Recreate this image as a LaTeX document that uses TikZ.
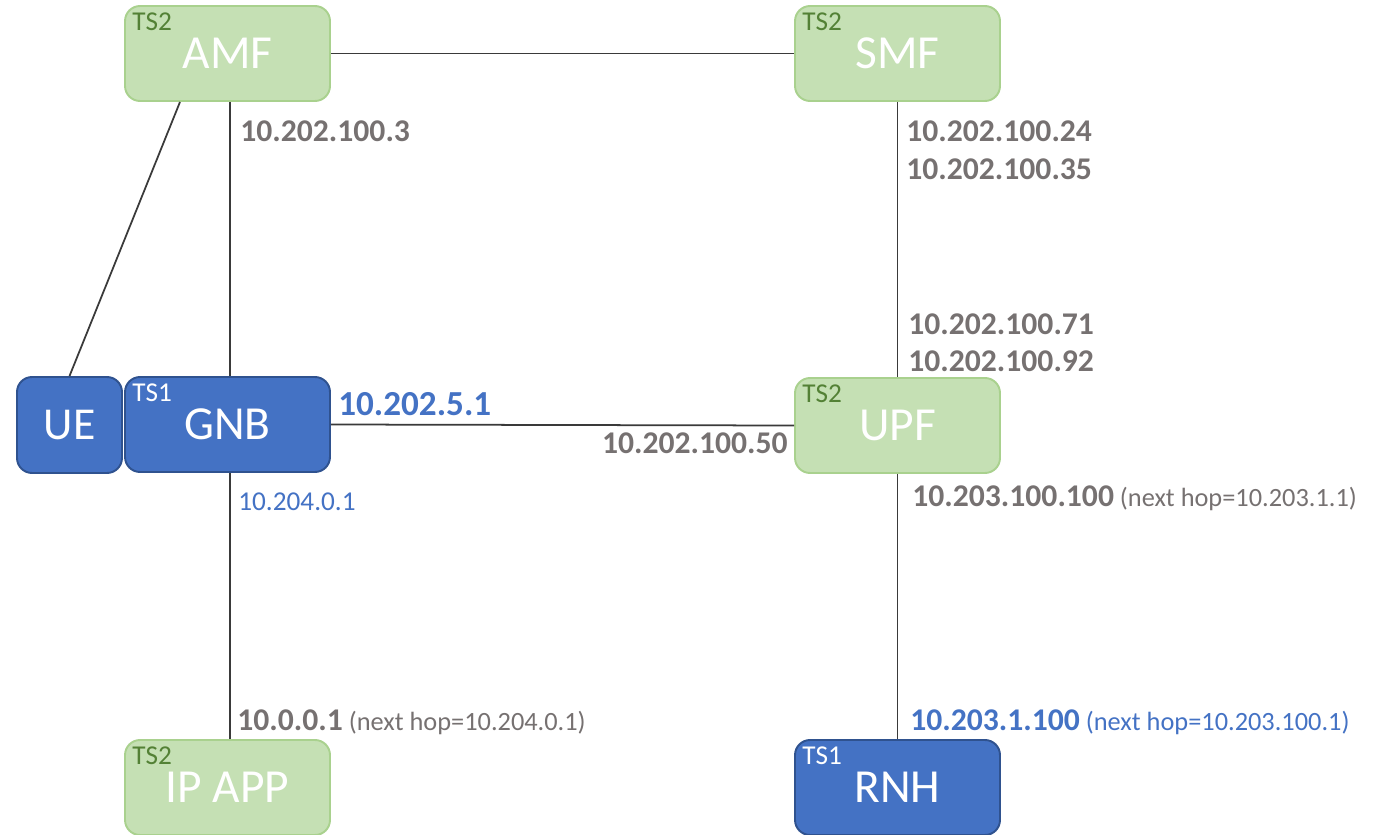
\documentclass[tikz,border=0pt]{standalone}
\usepackage{fontspec}
\setmainfont{Carlito}
\definecolor{grnfill}{HTML}{C5E0B4}
\definecolor{grnline}{HTML}{A9D18E}
\definecolor{grntext}{HTML}{538135}
\definecolor{bluefill}{HTML}{4472C4}
\definecolor{blueline}{HTML}{2F528F}
\definecolor{ipgray}{HTML}{767171}
\definecolor{linkgray}{HTML}{3A3A3A}
\newcommand{\nexthop}[1]{{\mdseries\fontsize{15}{18}\selectfont\ (next hop=#1)}}
\begin{document}
\begin{tikzpicture}[x=0.02cm,y=-0.02cm,
    nf/.style={rounded corners=0.3cm, line width=1.1pt, minimum width=4.1cm,
      minimum height=1.9cm, text=white, font=\fontsize{27}{29}\selectfont},
    nfgreen/.style={nf, fill=grnfill, draw=grnline},
    nfblue/.style={nf, fill=bluefill, draw=blueline},
    tslabel/.style={inner sep=0pt, anchor=north west, font=\fontsize{15.5}{17}\selectfont},
    link/.style={draw=linkgray, line width=1pt},
    ipb/.style={inner sep=0pt, anchor=base west, text=ipgray, font=\fontsize{18}{20}\selectfont\bfseries},
    ipn/.style={inner sep=0pt, anchor=base west, font=\fontsize{15.5}{17}\selectfont}]
    \useasboundingbox (0,0) rectangle (1377,835);
    % network functions
    \node [nfgreen] (AMF) at (227.5,53.5) {AMF};
    \node [nfgreen] (SMF) at (897.5,53.5) {SMF};
    \node [nfblue, minimum width=2.1cm, minimum height=1.92cm,
      font=\fontsize{26}{28}\selectfont] (UE) at (69.5,425) {UE};
    \node [nfblue] (GNB) at (227.5,424.5) {GNB};
    \node [nfgreen] (UPF) at (897.5,425.5) {UPF};
    \node [nfgreen] (APP) at (227.5,787.5) {IP APP};
    \node [nfblue] (RNH) at (897.5,787.5) {RNH};
    \foreach \n/\t/\c in {AMF/TS2/grntext, SMF/TS2/grntext, GNB/TS1/white,
      UPF/TS2/grntext, APP/TS2/grntext, RNH/TS1/white}
      \node [tslabel, text=\c] (\n-ts) at ([shift={(8,7)}]\n.north west) {\t};
    % links
    \draw [link] (AMF.east) -- (SMF.west);
    \draw [link] ([xshift=-0.95cm]AMF.south) -- (UE.north);
    \draw [link] ([xshift=0.05cm]AMF.south) -- ([xshift=0.05cm]GNB.north);
    \draw [link] (SMF.south) -- (UPF.north);
    \draw [link] (GNB.east) -- (UPF.west);
    \draw [link] ([xshift=0.05cm]GNB.south) -- ([xshift=0.05cm]APP.north);
    \draw [link] (UPF.south) -- (RNH.north);
    % addresses
    \node [ipb] (a1) at (240,141) {10.202.100.3};
    \node [ipb] (s1) at (906,141) {10.202.100.24};
    \node [ipb] (s2) at (906,179) {10.202.100.35};
    \node [ipb] (u1) at (908,334) {10.202.100.71};
    \node [ipb] (u2) at (908,371) {10.202.100.92};
    \node [ipb, text=bluefill, font=\fontsize{20}{22}\selectfont\bfseries] (g1) at (338,415) {10.202.5.1};
    \node [ipb, anchor=base east] (u3) at (788,453) {10.202.100.50};
    \node [ipn, text=bluefill] (g2) at (238,510) {10.204.0.1};
    \node [ipb] (u4) at (912,506) {10.203.100.100\nexthop{10.203.1.1}};
    \node [ipb] (p1) at (237,730) {10.0.0.1\nexthop{10.204.0.1}};
    \node [ipb, text=bluefill] (r1) at (910,730) {10.203.1.100\nexthop{10.203.100.1}};
\end{tikzpicture}
\end{document}
